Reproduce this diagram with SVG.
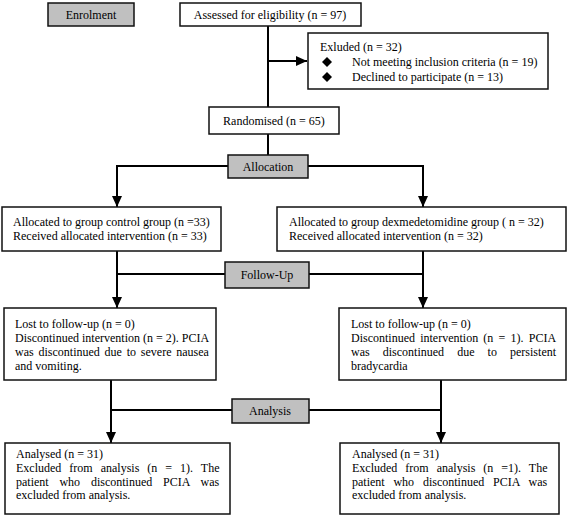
<svg xmlns="http://www.w3.org/2000/svg" width="568" height="516" viewBox="0 0 568 516">
<style>
.box{fill:#fff;stroke:#111;stroke-width:1.5}
.gbox{fill:#c0c0c0;stroke:#111;stroke-width:1.5}
.ln{fill:none;stroke:#000;stroke-width:2}
text{font-family:"Liberation Serif","Times New Roman",serif;font-size:12px;fill:#000}
.c{text-anchor:middle}
</style>
<defs>
<marker id="ah" markerUnits="userSpaceOnUse" markerWidth="12" markerHeight="12" viewBox="0 0 12 12" refX="11" refY="6" orient="auto">
<path d="M0,1 L11,6 L0,11 Z" fill="#000"/>
</marker>
</defs>
<rect width="568" height="516" fill="#fff"/>
<g id="connectors">
<path class="ln" d="M268,26 V107"/>
<path class="ln" d="M268,61 H307" marker-end="url(#ah)"/>
<path class="ln" d="M268,134 V155"/>
<path class="ln" d="M228,166 H117 V207" marker-end="url(#ah)"/>
<path class="ln" d="M308,166 H423 V207" marker-end="url(#ah)"/>
<path class="ln" d="M117,251 V308" marker-end="url(#ah)"/>
<path class="ln" d="M423,251 V308" marker-end="url(#ah)"/>
<path class="ln" d="M117,274 H225 M309,274 H423"/>
<path class="ln" d="M111,380 V443" marker-end="url(#ah)"/>
<path class="ln" d="M441,380 V443" marker-end="url(#ah)"/>
<path class="ln" d="M111,410 H232 M309,410 H441"/>
</g>
<g id="enrolment">
<rect class="gbox" x="48" y="3" width="86" height="23"/>
<text class="c" x="91" y="19">Enrolment</text>
</g>
<g id="assessed">
<rect class="box" x="180" y="3" width="181" height="23"/>
<text class="c" x="270" y="19">Assessed for eligibility (n = 97)</text>
</g>
<g id="excluded">
<rect class="box" x="308" y="33" width="240" height="56"/>
<text x="320" y="51">Exluded (n = 32)</text>
<path d="M327,57 L332,62 L327,67 L322,62 Z" fill="#000"/>
<text x="352" y="66">Not meeting inclusion criteria (n = 19)</text>
<path d="M327,72 L332,77 L327,82 L322,77 Z" fill="#000"/>
<text x="352" y="81">Declined to participate (n = 13)</text>
</g>
<g id="randomised">
<rect class="box" x="209" y="107" width="130" height="27"/>
<text class="c" x="274" y="125">Randomised (n = 65)</text>
</g>
<g id="allocation">
<rect class="gbox" x="228" y="155" width="80" height="23"/>
<text class="c" x="268" y="171">Allocation</text>
</g>
<g id="alloc-control">
<rect class="box" x="2" y="207" width="219" height="44"/>
<text x="13" y="226">Allocated to group control group (n =33)</text>
<text x="13" y="240">Received allocated intervention (n = 33)</text>
</g>
<g id="alloc-dex">
<rect class="box" x="277" y="207" width="289" height="44"/>
<text x="289" y="226">Allocated to group dexmedetomidine group ( n = 32)</text>
<text x="289" y="240">Received allocated intervention (n = 32)</text>
</g>
<g id="followup">
<rect class="gbox" x="225" y="262" width="84" height="26"/>
<text class="c" x="267" y="279">Follow-Up</text>
</g>
<g id="fu-control">
<rect class="box" x="4" y="308" width="212" height="72"/>
<text x="15" y="328">Lost to follow-up (n = 0)</text>
<text x="15" y="342">Discontinued intervention (n = 2). PCIA</text>
<text x="15" y="356" style="word-spacing:1.8px">was discontinued due to severe nausea</text>
<text x="15" y="370">and vomiting.</text>
</g>
<g id="fu-dex">
<rect class="box" x="339" y="308" width="227" height="72"/>
<text x="351" y="328">Lost to follow-up (n = 0)</text>
<text x="351" y="342" style="word-spacing:2.2px">Discontinued intervention (n = 1). PCIA</text>
<text x="351" y="356" style="word-spacing:10.1px">was discontinued due to persistent</text>
<text x="351" y="370">bradycardia</text>
</g>
<g id="analysis">
<rect class="gbox" x="232" y="399" width="77" height="24"/>
<text class="c" x="270" y="415">Analysis</text>
</g>
<g id="an-control">
<rect class="box" x="5" y="443" width="225" height="71"/>
<text x="16" y="458">Analysed (n = 31)</text>
<text x="16" y="472" style="word-spacing:5px">Excluded from analysis (n = 1). The</text>
<text x="16" y="485.5" style="word-spacing:7.8px">patient who discontinued PCIA was</text>
<text x="16" y="499">excluded from analysis.</text>
</g>
<g id="an-dex">
<rect class="box" x="340" y="443" width="219" height="71"/>
<text x="352" y="458">Analysed (n = 31)</text>
<text x="352" y="472" style="word-spacing:5px">Excluded from analysis (n =1). The</text>
<text x="352" y="485.5" style="word-spacing:5.8px">patient who discontinued PCIA was</text>
<text x="352" y="499">excluded from analysis.</text>
</g>
</svg>
